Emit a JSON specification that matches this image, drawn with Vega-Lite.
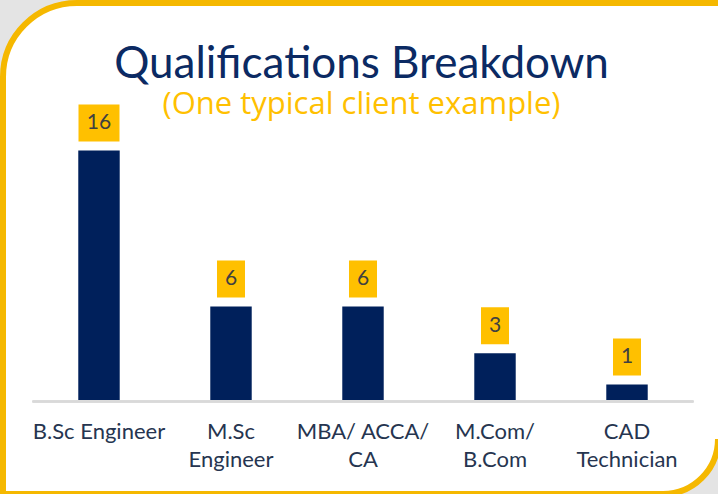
{
  "$schema": "https://vega.github.io/schema/vega-lite/v6.json",
  "width": 715,
  "height": 491,
  "autosize": {"type": "none"},
  "padding": {"left": 3, "top": 3, "right": 0, "bottom": 0},
  "background": "#e4e4e4",
  "config": {
    "view": {"fill": "#ffffff", "stroke": "#f5b800", "strokeWidth": 6, "strokeDash": [641, 436, 2000]},
    "style": {"cell": {"cornerRadiusTopLeft": 74, "cornerRadiusBottomRight": 55, "strokeDash": [641, 436, 2000]}},
    "font": "Lato"
  },
  "title": {
    "text": "Qualifications Breakdown",
    "subtitle": "(One typical client example)",
    "anchor": "middle",
    "frame": "group",
    "offset": -117,
    "dx": 1,
    "font": "Lato",
    "fontSize": 44,
    "fontWeight": "normal",
    "color": "#0b2a63",
    "subtitleFont": "Open Sans",
    "subtitleFontSize": 31,
    "subtitleColor": "#ffc000",
    "subtitlePadding": 3
  },
  "data": {
    "values": [
      {"qualification": "B.Sc Engineer", "count": 16},
      {"qualification": "M.Sc Engineer", "count": 6},
      {"qualification": "MBA/ ACCA/ CA", "count": 6},
      {"qualification": "M.Com/ B.Com", "count": 3},
      {"qualification": "CAD Technician", "count": 1}
    ]
  },
  "layer": [
    {
      "mark": {"type": "bar", "color": "#00205b", "xOffset": 2.5},
      "encoding": {
        "x": {
          "field": "qualification",
          "type": "nominal",
          "sort": null,
          "scale": {"paddingInner": 0.686, "paddingOuter": 0.5513},
          "axis": {
            "title": null,
            "orient": "bottom",
            "offset": -94,
            "domain": false,
            "ticks": false,
            "labelAngle": 0,
            "labelOffset": 2.5,
            "labelFont": "Lato",
            "labelFontSize": 22,
            "labelColor": "#263550",
            "labelPadding": 21,
            "labelBaseline": "top",
            "labelLineHeight": 28,
            "labelExpr": "datum.value == 'B.Sc Engineer' ? datum.value : [substring(datum.value, 0, lastindexof(datum.value, ' ')), substring(datum.value, lastindexof(datum.value, ' ') + 1)]"
          }
        },
        "y": {
          "field": "count",
          "type": "quantitative",
          "scale": {"domain": [-6.026, 25.449], "nice": false, "zero": false},
          "axis": null
        },
        "y2": {"datum": 0}
      }
    },
    {
      "mark": {"type": "tick", "color": "#d9d9d9", "thickness": 2, "size": 661, "yOffset": 1.5, "xOffset": 2.5},
      "encoding": {
        "x": {"datum": "MBA/ ACCA/ CA", "type": "nominal"},
        "y": {"datum": 0, "type": "quantitative"}
      }
    },
    {
      "mark": {"type": "bar", "color": "#ffc000", "yOffset": -46, "y2Offset": -9, "xOffset": 2.5},
      "encoding": {
        "x": {"field": "qualification", "type": "nominal", "sort": null},
        "y": {"field": "count", "type": "quantitative"},
        "y2": {"field": "count"},
        "size": {"condition": {"test": "datum.count >= 10", "value": 41}, "value": 28}
      }
    },
    {
      "mark": {"type": "text", "color": "#404040", "font": "Lato", "fontSize": 21, "baseline": "middle", "align": "center", "yOffset": -27, "xOffset": 2.5},
      "encoding": {
        "x": {"field": "qualification", "type": "nominal", "sort": null},
        "y": {"field": "count", "type": "quantitative"},
        "text": {"field": "count", "type": "quantitative"}
      }
    }
  ]
}
